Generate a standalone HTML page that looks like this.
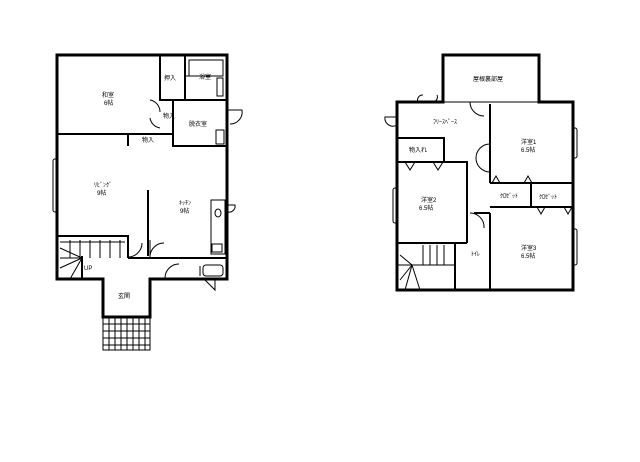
<!DOCTYPE html>
<html><head><meta charset="utf-8"><style>
html,body{margin:0;padding:0;background:#fff;}
svg{display:block}
text{font-family:"Liberation Sans","Noto Sans CJK JP",sans-serif;font-size:6px;fill:#000}
</style></head><body>
<svg width="640" height="462" viewBox="0 0 640 462" xmlns="http://www.w3.org/2000/svg">
<g fill="none" stroke="#000">
<!-- LEFT PLAN outer -->
<path d="M57,55 H227 V279 H150 V317 H103 V279 H57 Z" stroke-width="3"/>
<!-- interior walls -->
<g stroke-width="2">
<path d="M57,134 H173"/>
<path d="M160,55 V100 H227"/>
<path d="M173,100 V146 H227"/>
<path d="M185,55 V100"/>
<path d="M148,190 V256"/>
<path d="M148,258 H227"/>
<path d="M57,236 H128 V258"/>
<path d="M128,258 H148"/>
<path d="M128,134 V146"/>
<path d="M82,256 V279"/>
</g>
<g stroke-width="1">
<rect x="189" y="60" width="34" height="16"/>
<rect x="217" y="78" width="6" height="18"/>
<path d="M185,76 H223"/>
<rect x="211" y="200" width="14" height="54"/>
<ellipse cx="218" cy="213" rx="3" ry="4"/>
<rect x="212" y="244" width="10" height="8"/>
<rect x="203" y="265" width="20" height="11" rx="3"/>
<path d="M200,266 V276"/>
<rect x="216" y="130" width="8" height="14"/>
<rect x="53" y="159" width="5" height="53" rx="2"/>
<path d="M150,257 A14,14 0 0 1 164,243 M150,257 V240"/>
<path d="M128,257 A14,14 0 0 0 142,243"/>
<path d="M165,278 A14,14 0 0 1 179,264"/>
<path d="M150,100 A12,12 0 0 1 160,112 M150,118 A12,12 0 0 0 160,128"/>
<path d="M228,110 L242,110 A12,12 0 0 1 230,124"/>
<path d="M228,205 L235,205 A6,6 0 0 1 228,212"/>
<path d="M205,280 L215,290 V280"/>
<!-- stairs -->
<path d="M60,242 H125 M70,240 V258 M80,240 V258 M90,240 V258 M100,240 V258 M110,240 V258 M120,240 V258 M60,258 H82 M60,268 L82,258 M70,279 L82,258 M60,248 L82,258"/>
<!-- entry grid -->
<path d="M103,317 V350 H150 V317"/>
<path d="M103,324 H150 M103,331 H150 M103,338 H150 M103,345 H150"/>
<path d="M109,317 V350 M115,317 V350 M121,317 V350 M127,317 V350 M133,317 V350 M139,317 V350 M145,317 V350"/>
</g>

<!-- RIGHT PLAN outer -->
<path d="M397,102 H443 V55 H539 V102 H573 V290 H397 Z" stroke-width="3"/>
<g stroke-width="2">
<path d="M443,102 H539" stroke-width="1"/>
<path d="M490,104 V183"/>
<path d="M490,183 H573"/>
<path d="M490,207 H573"/>
<path d="M531,183 V207"/>
<path d="M490,213 V290"/>
<path d="M474,213 H490"/>
<path d="M397,138 H444 V162"/>
<path d="M397,162 H467 V243"/>
<path d="M397,243 H467"/>
<path d="M455,243 V290"/>
<path d="M397,265 H455" stroke-width="1"/>
</g>
<g stroke-width="1">
<path d="M405,162 L410,170 L415,162 M433,162 L438,170 L443,162"/>
<path d="M492,183 L496,176 L500,183 M524,183 L528,176 L532,183"/>
<path d="M537,207 L541,214 L545,207 M564,207 L568,214 L572,207"/>
<path d="M470,102 A14,14 0 0 0 484,116"/>
<path d="M490,144 A14,14 0 0 0 476,158 A14,14 0 0 0 490,172"/>
<path d="M470,213 A14,14 0 0 1 484,228"/>
<path d="M397,117 L385,117 A8,8 0 0 0 397,125"/>
<path d="M418,102 A5,5 0 0 1 423,95 M432,102 A5,5 0 0 0 437,95"/>
<rect x="572" y="128" width="5" height="30" rx="2"/>
<rect x="572" y="229" width="5" height="36" rx="2"/>
<rect x="393" y="188" width="5" height="35" rx="2"/>
<path d="M423,245 V265 M430,245 V265 M437,245 V265 M444,245 V265 M400,255 L412,265 L400,280 M412,265 L405,290 M412,265 L420,290"/>
</g>
</g>
<!-- labels -->
<text x="102" y="97">和室</text><text x="104" y="105">6帖</text>
<text x="164" y="80">押入</text>
<text x="199" y="79">浴室</text>
<text x="189" y="126">脱衣室</text>
<text x="163" y="118">物入</text>
<text x="142" y="142">物入</text>
<text x="94" y="187">ﾘﾋﾞﾝｸﾞ</text><text x="97" y="195">9帖</text>
<text x="179" y="205">ｷｯﾁﾝ</text><text x="180" y="213">9帖</text>
<text x="84" y="270">UP</text>
<text x="118" y="298">玄関</text>
<text x="473" y="81">屋根裏部屋</text>
<text x="433" y="124">ﾌﾘｰｽﾍﾟｰｽ</text>
<text x="409" y="152">物入れ</text>
<text x="521" y="144">洋室1</text><text x="521" y="152">6.5帖</text>
<text x="500" y="198">ｸﾛｾﾞｯﾄ</text>
<text x="539" y="199">ｸﾛｾﾞｯﾄ</text>
<text x="421" y="202">洋室2</text><text x="419" y="210">6.5帖</text>
<text x="521" y="250">洋室3</text><text x="521" y="258">6.5帖</text>
<text x="471" y="256">ﾄｲﾚ</text>
</svg>
</body></html>
